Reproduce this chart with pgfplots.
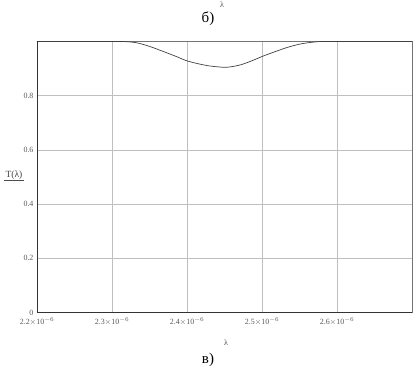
\documentclass[border=0pt]{standalone}
\usepackage{pgfplots}
\pgfplotsset{compat=1.18}
\usepackage{fontspec}
\setmainfont{Liberation Serif}
\begin{document}
\begin{tikzpicture}[x=1bp,y=1bp]
\useasboundingbox (0,0) rectangle (417,371);
\begin{axis}[
  at={(37bp,58.5bp)}, anchor=south west,
  scale only axis, width=375bp, height=271bp,
  xmin=2.2, xmax=2.7, ymin=0, ymax=1,
  xtick={2.2,2.3,2.4,2.5,2.6},
  xticklabels={{2.2$\times$10$^{-6}$},{2.3$\times$10$^{-6}$},{2.4$\times$10$^{-6}$},{2.5$\times$10$^{-6}$},{2.6$\times$10$^{-6}$}},
  ytick={0,0.2,0.4,0.6,0.8},
  yticklabels={0,0.2,0.4,0.6,0.8},
  tick label style={font=\fontsize{8}{9}\selectfont, text=black!65},
  xticklabel style={yshift=-2bp},
  grid=major, major grid style={black!25, line width=0.6pt},
  major tick length=0pt,
  axis line style={black!55, line width=0.6pt},
  axis x line*=box, axis y line*=box,
  clip=false,
]
\addplot[black!75, line width=0.7pt, smooth, tension=0.5] coordinates {
  (2.2,1.0) (2.25,1.0) (2.30,1.0) (2.3145,1.0)
  (2.3323,0.9956) (2.350,0.982) (2.3676,0.964) (2.3854,0.945)
  (2.3995,0.929) (2.4163,0.917) (2.4296,0.910) (2.4429,0.906)
  (2.4539,0.905) (2.4717,0.914) (2.4893,0.932) (2.5004,0.945)
  (2.5159,0.961) (2.5336,0.978) (2.5514,0.991) (2.5690,0.998)
  (2.582,1.0) (2.62,1.0) (2.7,1.0)
};
\draw[black!80, line width=0.8pt] (axis cs:2.2,0) -- (axis cs:2.2,1);
\draw[black!80, line width=0.8pt] (axis cs:2.2,0) -- (axis cs:2.7,0);
\end{axis}
\node[font=\fontsize{15}{17}\selectfont] at (208,352) {б)};
\node[font=\fontsize{8}{9}\selectfont, text=black!70] at (222,366) {λ};
\node[font=\fontsize{8}{9}\selectfont, text=black!70] at (226,28) {λ};
\node[font=\fontsize{15}{17}\selectfont] at (208,11) {в)};
\node[font=\fontsize{9.5}{11}\selectfont, text=black!75, inner sep=1pt] (T) at (14,196) {T(λ)};
\draw[black!70, line width=0.5pt] (T.south west) -- (T.south east);
\end{tikzpicture}
\end{document}
